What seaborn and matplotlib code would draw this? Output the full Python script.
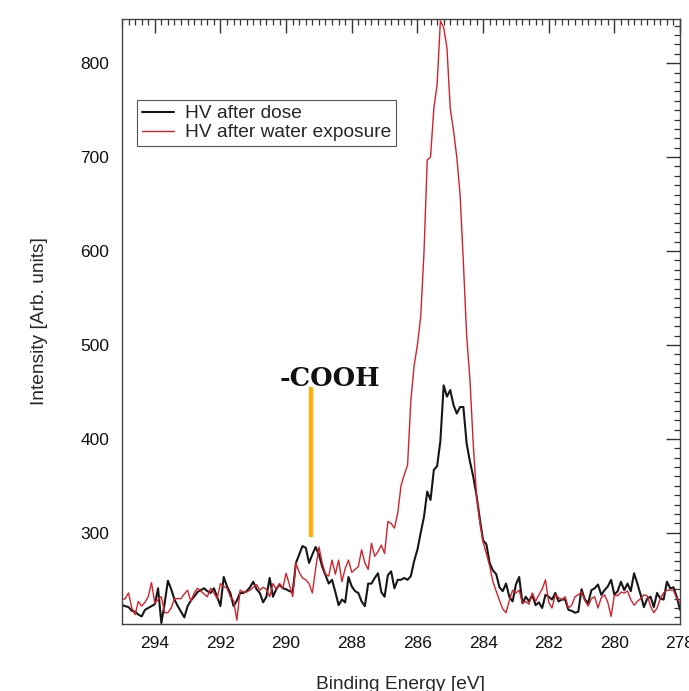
import numpy as np
import pandas as pd
import matplotlib
matplotlib.use("Agg")
import matplotlib.pyplot as plt
from matplotlib.ticker import MultipleLocator
import seaborn as sns

# Binding energy grid, 295.0 eV down to 278.0 eV in 0.1 eV steps
energy = np.round(np.arange(2950, 2779, -1) / 10, 1)

# HV after dose (black), one row per eV
after_dose = [
    223, 222, 221, 217, 216, 213, 211, 218, 220, 222,
    224, 241, 204, 225, 249, 240, 229, 222, 216, 210,
    222, 228, 232, 237, 239, 241, 238, 236, 241, 232,
    222, 253, 243, 236, 222, 228, 236, 236, 238, 242,
    248, 240, 236, 226, 232, 252, 232, 240, 245, 241,
    240, 238, 237, 268, 277, 286, 284, 268, 277, 285,
    277, 264, 255, 246, 250, 237, 223, 229, 226, 253,
    243, 238, 236, 227, 222, 246, 246, 252, 257, 237,
    232, 255, 259, 241, 250, 250, 252, 250, 254, 270,
    282, 300, 317, 344, 335, 367, 371, 398, 457, 445,
    452, 436, 427, 434, 434, 395, 376, 360, 340, 315,
    292, 288, 268, 260, 256, 242, 238, 246, 232, 227,
    245, 253, 225, 232, 227, 234, 223, 226, 220, 234,
    232, 229, 236, 227, 229, 229, 218, 217, 215, 216,
    240, 229, 225, 239, 241, 245, 234, 239, 243, 250,
    234, 238, 248, 239, 246, 238, 257, 246, 234, 221,
    230, 232, 221, 236, 230, 229, 248, 241, 242, 232,
    218,
]

# HV after water exposure (red)
after_water = [
    229, 230, 236, 220, 213, 227, 222, 226, 232, 247,
    225, 229, 232, 215, 215, 220, 230, 230, 230, 235,
    239, 227, 236, 241, 238, 235, 232, 241, 236, 230,
    246, 243, 241, 232, 228, 207, 239, 237, 237, 239,
    242, 245, 239, 242, 240, 232, 246, 240, 246, 241,
    257, 245, 232, 268, 258, 252, 250, 246, 236, 262,
    285, 268, 256, 254, 271, 256, 271, 248, 262, 271,
    258, 261, 264, 282, 268, 261, 289, 275, 280, 287,
    278, 312, 310, 305, 321, 350, 362, 372, 441, 478,
    500, 530, 598, 697, 700, 752, 777, 845, 838, 816,
    752, 728, 700, 660, 588, 510, 463, 395, 340, 312,
    290, 278, 265, 248, 238, 228, 219, 215, 228, 239,
    236, 239, 225, 227, 224, 236, 227, 234, 240, 250,
    226, 220, 234, 231, 229, 232, 220, 223, 232, 234,
    237, 228, 222, 230, 232, 220, 231, 234, 226, 211,
    234, 233, 237, 236, 238, 229, 223, 227, 230, 234,
    233, 222, 215, 220, 230, 236, 239, 239, 239, 230,
    226,
]

assert len(after_dose) == len(energy) == len(after_water)

# -COOH marker
cooh_energy = 289.25
cooh_range = [296, 455]

sns.set_style("white")
plt.rcParams['font.family'] = ['Liberation Sans', 'DejaVu Sans']

df = pd.DataFrame({"energy": energy, "dose": after_dose, "water": after_water})

fig = plt.figure(figsize=(6.89, 6.91), dpi=100)
ax = fig.add_axes([0.177, 0.097, 0.810, 0.8755])

sns.lineplot(data=df, x="energy", y="dose", ax=ax, color="#161616", linewidth=1.5,
             estimator=None, label="HV after dose")
sns.lineplot(data=df, x="energy", y="water", ax=ax, color="#d3222c", linewidth=1.0,
             estimator=None, label="HV after water exposure")

ax.plot([cooh_energy, cooh_energy], cooh_range, color="#ffb20f", linewidth=3.2,
        solid_capstyle="butt")
ax.text(288.68, 456, "-COOH", ha="center", va="baseline", fontsize=18.5,
        family="DejaVu Serif", fontweight="bold", color="#111111")

ax.set_xlim(295, 278)
ax.set_ylim(203, 847)
ax.xaxis.set_major_locator(MultipleLocator(2))
ax.xaxis.set_minor_locator(MultipleLocator(0.2))
ax.yaxis.set_major_locator(MultipleLocator(100))
ax.yaxis.set_minor_locator(MultipleLocator(10))

ax.tick_params(which="both", direction="in", top=True, right=True, colors="#333333",
               labelcolor="#111111")
ax.tick_params(which="major", length=10, width=1.0, labelsize=12.5, pad=9)
ax.tick_params(which="minor", length=4.5, width=0.9)
for s in ax.spines.values():
    s.set_color("#444444")
    s.set_linewidth(1.0)

ax.set_xlabel("Binding Energy [eV]", fontsize=13.8)
ax.set_ylabel("Intensity [Arb. units]", fontsize=13.8)
ax.xaxis.set_label_coords(0.5, -0.086)
ax.yaxis.set_label_coords(-0.133, 0.5)

leg = ax.legend(loc="upper left", bbox_to_anchor=(0.027, 0.866), borderaxespad=0,
                fontsize=13.8, frameon=True, fancybox=False, framealpha=1,
                edgecolor="#555555", handlelength=1.7, handletextpad=0.57,
                labelspacing=0.08, borderpad=0.25)
leg.get_frame().set_linewidth(0.8)

fig.savefig("out.png", dpi=100)
